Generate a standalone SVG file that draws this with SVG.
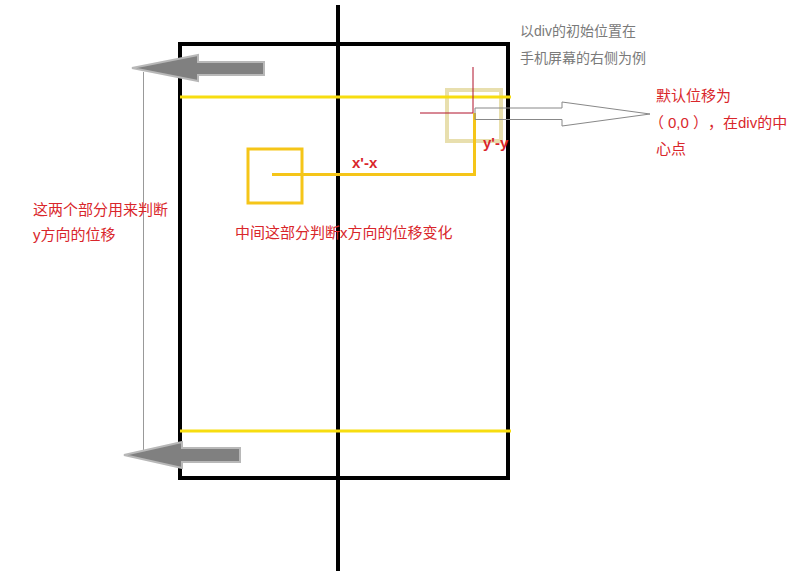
<svg xmlns="http://www.w3.org/2000/svg" width="804" height="580" viewBox="0 0 804 580">
<style>
text{text-spacing-trim:space-all}
.red{fill:#d9262b;font-family:"Liberation Sans","Noto Sans CJK SC",sans-serif;font-size:15px}
.gray{fill:#7a7a7a;font-family:"Liberation Sans","Noto Sans CJK SC",sans-serif;font-size:14px}
.lbl{fill:#d9262b;font-family:"Liberation Sans","Noto Sans CJK SC",sans-serif;font-size:15px;font-weight:bold}
.garrow{fill:#808080;stroke:#b8b8b8;stroke-width:2}
</style>
<rect width="804" height="580" fill="#ffffff"/>
<g id="screen">
<rect x="180" y="44" width="328" height="434" fill="none" stroke="#000" stroke-width="4"/>
</g>
<g id="axis">
<line x1="338" y1="5" x2="338" y2="571" stroke="#000" stroke-width="4"/>
</g>
<g id="div-box">
<rect x="447" y="90" width="54" height="51" fill="none" stroke="#e8dfae" stroke-width="4"/>
</g>
<g id="connectors">
<line x1="180" y1="97" x2="511" y2="97" stroke="#f7dd10" stroke-width="3"/>
<line x1="180" y1="431" x2="511" y2="431" stroke="#f7dd10" stroke-width="3"/>
<line x1="473" y1="67" x2="473" y2="113" stroke="#b0102a" stroke-width="1"/>
<line x1="420" y1="113" x2="473" y2="113" stroke="#b0102a" stroke-width="1"/>
<polyline points="272,174.5 474.5,174.5 474.5,113" fill="none" stroke="#f5c518" stroke-width="3"/>
<line x1="143.5" y1="72" x2="143.5" y2="456" stroke="#999" stroke-width="1"/>
<polygon class="garrow" points="132,68 198,55 198,62 264,62 264,75 198,75 198,81"/>
<polygon class="garrow" points="124,455 182,442 182,448 240,448 240,462 182,462 182,468"/>
<polygon points="475,108 562,108 562,102 650,114 562,126 562,119.5 475,119.5" fill="none" stroke="#888" stroke-width="1"/>
</g>
<g id="moved-box">
<rect x="248" y="149" width="54" height="54" fill="none" stroke="#f5c518" stroke-width="3"/>
</g>
<g id="labels">
<text class="gray" x="520" y="36">以div的初始位置在</text>
<text class="gray" x="520" y="63">手机屏幕的右侧为例</text>
<text class="red" x="656" y="101">默认位移为</text>
<text class="red" y="128"><tspan x="649">（</tspan><tspan x="668">0,0</tspan><tspan x="693">）</tspan><tspan x="708">，</tspan><tspan x="723">在div的中</tspan></text>
<text class="red" x="656" y="154">心点</text>
<text class="red" x="33" y="215">这两个部分用来判断</text>
<text class="red" x="33" y="240">y方向的位移</text>
<text class="red" x="235" y="238">中间这部分判断x方向的位移变化</text>
<text class="lbl" x="352" y="168">x'-x</text>
<text class="lbl" x="483" y="148">y'-y</text>
</g>
</svg>
